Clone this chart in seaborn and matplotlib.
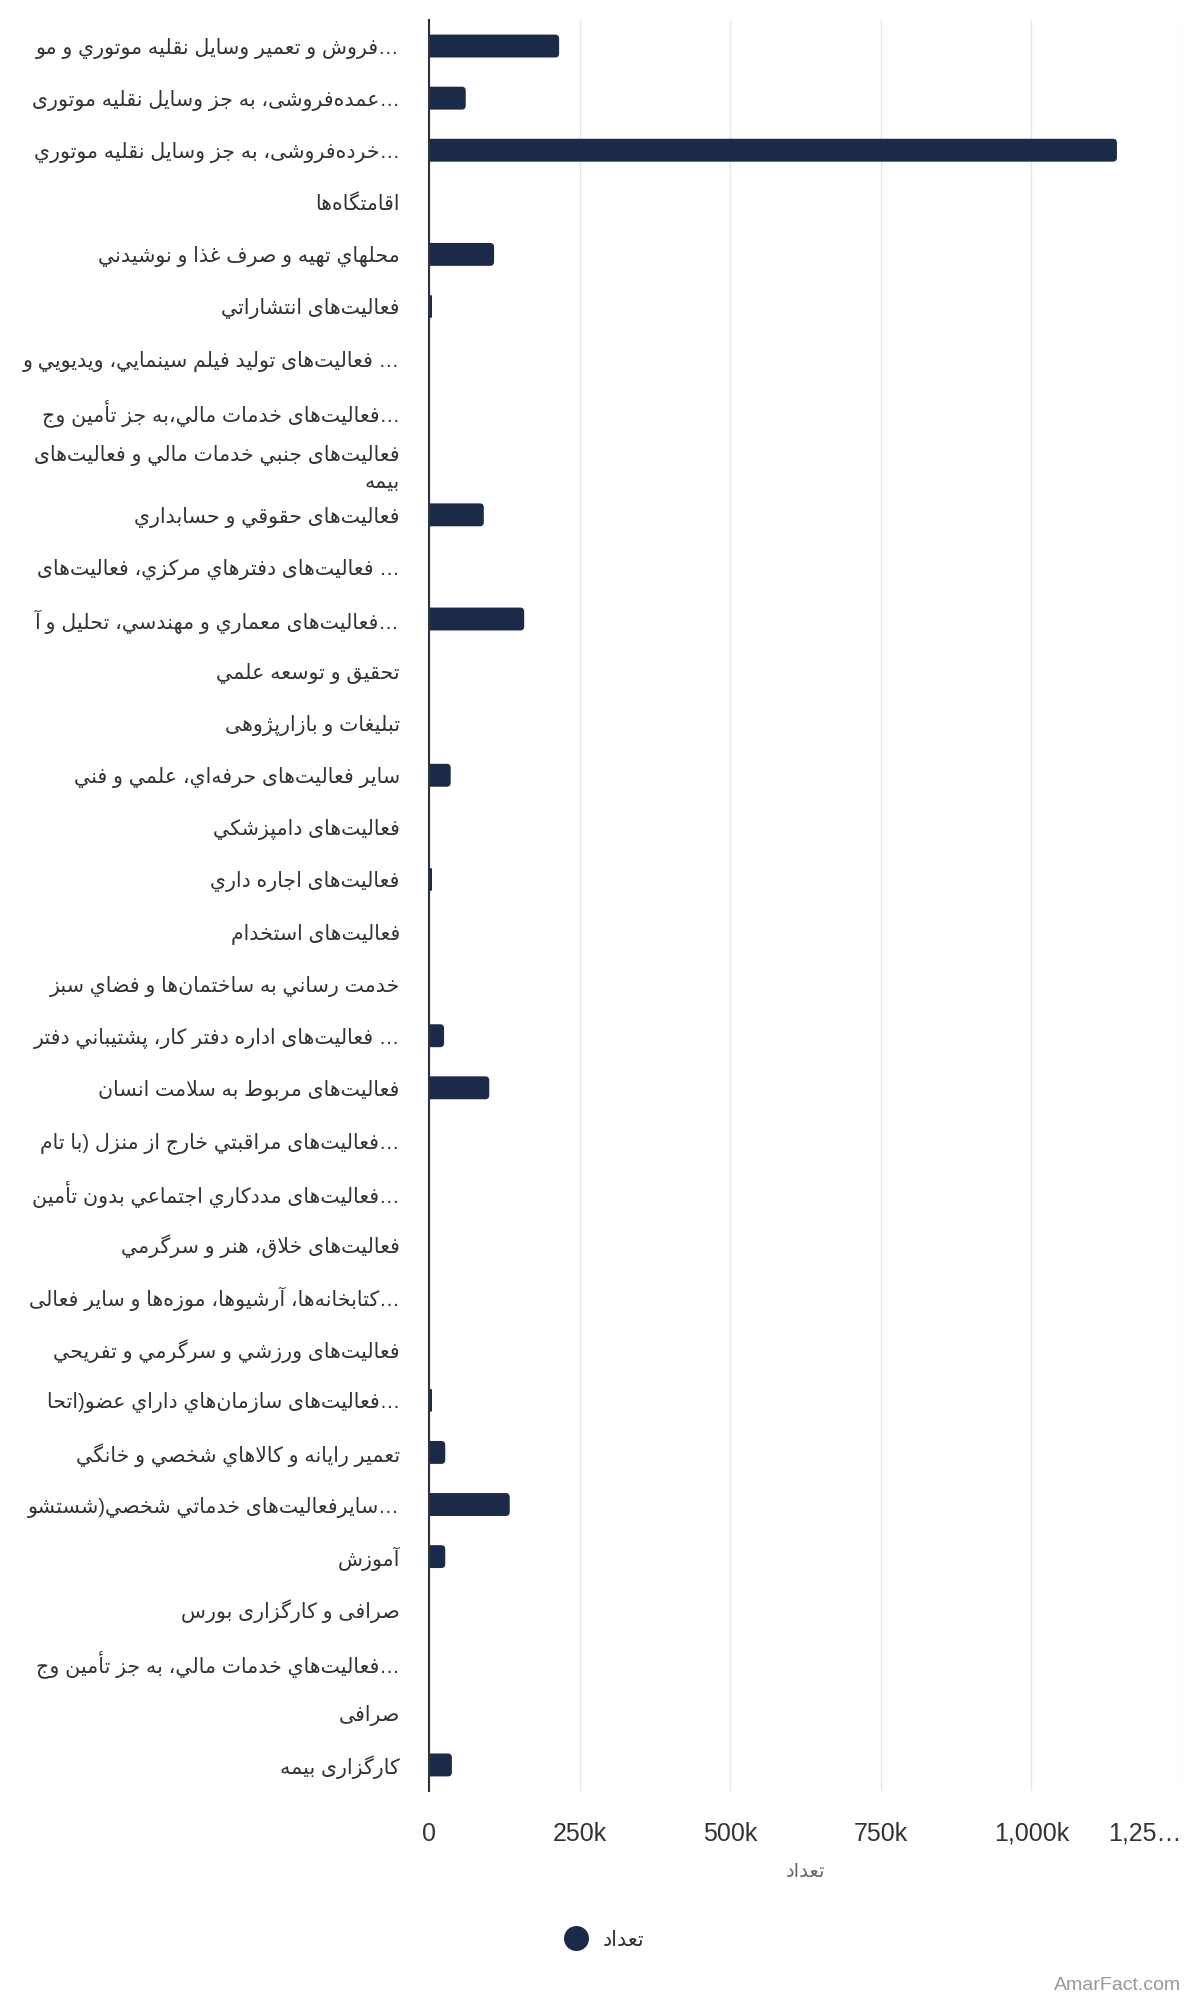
import matplotlib
matplotlib.use("Agg")
import matplotlib.pyplot as plt
import seaborn as sns
from matplotlib.lines import Line2D
from matplotlib.patches import FancyBboxPatch
from matplotlib.ticker import FuncFormatter

# Data
activities = [
    "فروش و تعمير وسايل نقليه موتوري و مو…",
    "عمده‌فروشی، به جز وسايل نقليه موتوری…",
    "خرده‌فروشی، به جز وسايل نقليه موتوري…",
    "اقامتگاه‌ها",
    "محلهاي تهيه و صرف غذا و نوشيدني",
    "فعالیت‌های انتشاراتي",
    "فعالیت‌های توليد فيلم سينمايي، ويديويي و …",
    "فعالیت‌های خدمات مالي،به جز تأمين وج…",
    "فعالیت‌های جنبي خدمات مالي و فعالیت‌های\nبيمه",
    "فعالیت‌های حقوقي و حسابداري",
    "فعالیت‌های دفترهاي مرکزي، فعالیت‌های …",
    "فعالیت‌های معماري و مهندسي، تحليل و آ…",
    "تحقيق و توسعه علمي",
    "تبليغات و بازارپژوهی",
    "ساير فعالیت‌های حرفه‌اي، علمي و فني",
    "فعالیت‌های دامپزشکي",
    "فعالیت‌های اجاره داري",
    "فعالیت‌های استخدام",
    "خدمت رساني به ساختمان‌ها و فضاي سبز",
    "فعالیت‌های اداره دفتر کار، پشتيباني دفتر …",
    "فعالیت‌های مربوط به سلامت انسان",
    "فعالیت‌های مراقبتي خارج از منزل (با تام…",
    "فعالیت‌های مددکاري اجتماعي بدون تأمين…",
    "فعالیت‌های خلاق، هنر و سرگرمي",
    "کتابخانه‌ها، آرشيوها، موزه‌ها و ساير فعالی…",
    "فعالیت‌های ورزشي و سرگرمي و تفريحي",
    "فعالیت‌های سازمان‌هاي داراي عضو(اتحا…",
    "تعمير رايانه و کالاهاي شخصي و خانگي",
    "سايرفعالیت‌های خدماتي شخصي(شستشو…",
    "آموزش",
    "صرافی و کارگزاری بورس",
    "فعالیت‌هاي خدمات مالي، به جز تأمين وج…",
    "صرافی",
    "کارگزاری بيمه",
]
counts = [
    216000, 61000, 1142000, 0, 108000, 5000, 0, 0, 0, 91000,
    0, 158000, 0, 0, 36000, 0, 5000, 0, 0, 25000,
    100000, 0, 0, 0, 0, 0, 5000, 27000, 134000, 27000,
    0, 0, 0, 38000,
]
series_name = "تعداد"

# Minimal Arabic shaping (matplotlib has no complex text layout)
FORMS = {
    "ا": (0xFE8D, 2), "آ": (0xFE81, 2), "أ": (0xFE83, 2), "إ": (0xFE87, 2),
    "ؤ": (0xFE85, 2), "د": (0xFEA9, 2), "ذ": (0xFEAB, 2), "ر": (0xFEAD, 2),
    "ز": (0xFEAF, 2), "و": (0xFEED, 2), "ة": (0xFE93, 2), "ژ": (0xFB8A, 2),
    "ى": (0xFEEF, 2),
    "ئ": (0xFE89, 4), "ب": (0xFE8F, 4), "ت": (0xFE95, 4), "ث": (0xFE99, 4),
    "ج": (0xFE9D, 4), "ح": (0xFEA1, 4), "خ": (0xFEA5, 4), "س": (0xFEB1, 4),
    "ش": (0xFEB5, 4), "ص": (0xFEB9, 4), "ض": (0xFEBD, 4), "ط": (0xFEC1, 4),
    "ظ": (0xFEC5, 4), "ع": (0xFEC9, 4), "غ": (0xFECD, 4), "ف": (0xFED1, 4),
    "ق": (0xFED5, 4), "ك": (0xFED9, 4), "ل": (0xFEDD, 4), "م": (0xFEE1, 4),
    "ن": (0xFEE5, 4), "ه": (0xFEE9, 4), "ي": (0xFEF1, 4), "پ": (0xFB56, 4),
    "چ": (0xFB7A, 4), "ک": (0xFB8E, 4), "گ": (0xFB92, 4), "ی": (0xFBFC, 4),
}
LAM_ALEF = {"ا": (0xFEFB, 0xFEFC), "آ": (0xFEF5, 0xFEF6),
            "أ": (0xFEF7, 0xFEF8), "إ": (0xFEF9, 0xFEFA)}
MIRROR = str.maketrans("()", ")(")


def shape(text):
    out = []
    prev_joins = False
    i = 0
    while i < len(text):
        c = text[i]
        nxt = text[i + 1] if i + 1 < len(text) else ""
        if c not in FORMS:
            if c != "\u200c":
                out.append(c)
            prev_joins = False
            i += 1
            continue
        if c == "ل" and nxt in LAM_ALEF:
            iso, fin = LAM_ALEF[nxt]
            out.append(chr(fin if prev_joins else iso))
            prev_joins = False
            i += 2
            continue
        base, n = FORMS[c]
        next_ok = nxt in FORMS
        if n == 4 and next_ok:
            form = 3 if prev_joins else 2
        else:
            form = 1 if prev_joins else 0
        out.append(chr(base + form))
        prev_joins = n == 4 and next_ok
        i += 1
    return "".join(out)


def visual(label):
    lines = []
    for line in label.split("\n"):
        suffix = ""
        if line.endswith("…"):
            body = line[:-1].rstrip()
            suffix = line[len(body):]
            line = body
        lines.append(shape(line)[::-1].translate(MIRROR) + suffix)
    return "\n".join(lines)


def fmt_k(v, pos):
    if v == 0:
        return "0"
    s = f"{v / 1000:,.0f}k"
    if v >= 1250000:
        s = s[:4] + "…"
    return s


sns.set_theme(style="white")
plt.rcParams["font.family"] = ["Liberation Sans", "DejaVu Sans"]

navy = "#1c2a4a"
fig = plt.figure(figsize=(12, 20), dpi=100)
ax = fig.add_axes([0.3575, 0.1045, 0.6275, 0.8855])

sns.barplot(x=counts, y=activities, orient="h", color=navy, width=0.44,
            saturation=1, ax=ax)

ax.set_xlim(0, 1250000)
ax.set_ylim(len(activities) - 0.5, -0.5)
ax.set_xticks([0, 250000, 500000, 750000, 1000000, 1250000])
ax.xaxis.set_major_formatter(FuncFormatter(fmt_k))
ax.set_yticks(range(len(activities)))
ax.set_yticklabels([visual(a) for a in activities])
for t in ax.get_yticklabels():
    t.set_linespacing(1.5)

# round the right end of each bar
ext = ax.get_window_extent()
px_x = ext.width / 1250000
px_y = ext.height / len(activities)
for p in list(ax.patches):
    x, y, w, h = p.get_x(), p.get_y(), p.get_width(), p.get_height()
    p.remove()
    if w <= 0:
        continue
    r = min(4 / px_x, w / 2)
    ax.add_patch(FancyBboxPatch((x - r, y), w + r, h,
                                boxstyle=f"round,pad=0,rounding_size={r}",
                                mutation_aspect=px_x / px_y,
                                facecolor=navy, edgecolor="none", zorder=2))

ax.grid(axis="x", color="#e6e6e6", linewidth=1)
ax.grid(axis="y", visible=False)
ax.set_axisbelow(True)
for side in ["top", "right", "bottom"]:
    ax.spines[side].set_visible(False)
ax.spines["left"].set_color("#333333")
ax.spines["left"].set_linewidth(1.5)
ax.spines["left"].set_zorder(5)

ax.tick_params(axis="y", length=0, pad=21, labelsize=14.8, labelcolor="#333333")
ax.tick_params(axis="x", length=0, pad=22, labelsize=18, labelcolor="#333333")
ax.get_xticklabels()[-1].set_horizontalalignment("right")

ax.set_xlabel(visual(series_name), fontsize=14, color="#666666", labelpad=13)
ax.set_ylabel("")

handle = Line2D([], [], marker="o", linestyle="", markersize=17, color=navy)
fig.legend([handle], [visual(series_name)], loc="center",
           bbox_to_anchor=(0.5, 0.03), frameon=False, fontsize=15,
           handletextpad=0.3, labelcolor="#333333")

fig.text(0.984, 0.0075, "AmarFact.com", ha="right", va="center",
         fontsize=14, color="#999999")

fig.savefig("out.png", dpi=100)
